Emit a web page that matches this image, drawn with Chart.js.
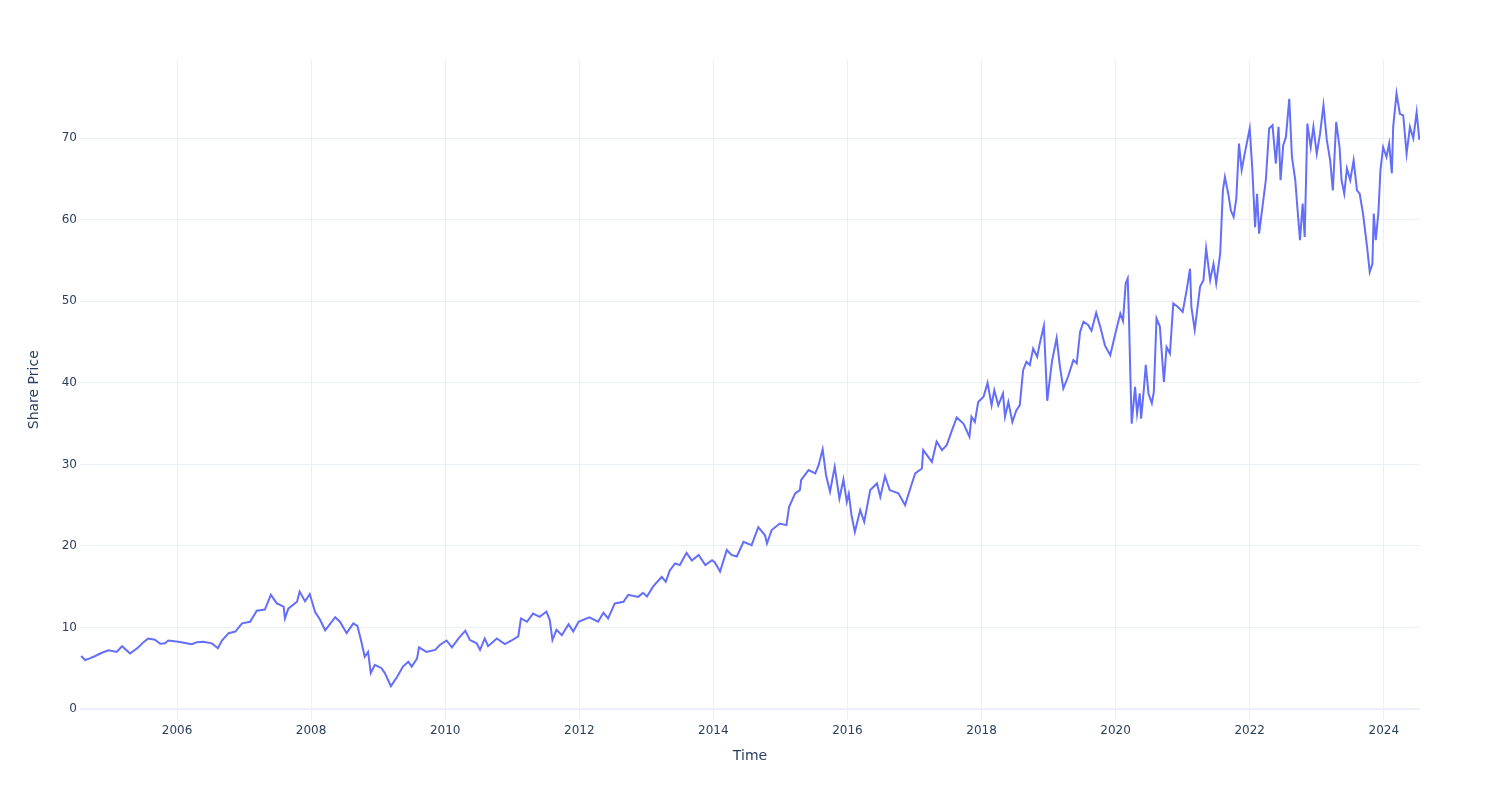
<!DOCTYPE html>
<html>
<head>
<meta charset="utf-8">
<title>Share Price</title>
<script src="https://cdn.jsdelivr.net/npm/chart.js@4/dist/chart.umd.min.js"></script>
<style>
    html, body { margin: 0; padding: 0; background: #fff; }
    #wrap { width: 1500px; height: 800px; position: relative; }
</style>
</head>
<body>
<div id="wrap"><canvas id="priceChart"></canvas></div>
<script>
// dates as decimal years
const years = [
    2004.57, 2004.63, 2004.70, 2004.78, 2004.88, 2004.98, 2005.10, 2005.18, 2005.30, 2005.42,
    2005.50, 2005.57, 2005.67, 2005.75, 2005.82, 2005.87, 2006.02, 2006.12, 2006.22, 2006.30,
    2006.39, 2006.52, 2006.61, 2006.67, 2006.77, 2006.87, 2006.97, 2007.09, 2007.19, 2007.31,
    2007.40, 2007.49, 2007.59, 2007.61, 2007.66, 2007.79, 2007.83, 2007.91, 2007.98, 2008.06,
    2008.13, 2008.21, 2008.36, 2008.43, 2008.53, 2008.63, 2008.69, 2008.75, 2008.80, 2008.85,
    2008.89, 2008.95, 2009.05, 2009.10, 2009.19, 2009.28, 2009.37, 2009.45, 2009.50, 2009.58,
    2009.61, 2009.72, 2009.85, 2009.92, 2010.02, 2010.10, 2010.20, 2010.30, 2010.37, 2010.47,
    2010.52, 2010.59, 2010.64, 2010.77, 2010.89, 2010.99, 2011.09, 2011.13, 2011.22, 2011.31,
    2011.41, 2011.51, 2011.56, 2011.60, 2011.66, 2011.74, 2011.84, 2011.91, 2011.99, 2012.15,
    2012.28, 2012.36, 2012.43, 2012.53, 2012.66, 2012.73, 2012.88, 2012.95, 2013.01, 2013.10,
    2013.23, 2013.29, 2013.35, 2013.43, 2013.50, 2013.60, 2013.68, 2013.78, 2013.88, 2013.98,
    2014.02, 2014.10, 2014.20, 2014.27, 2014.35, 2014.45, 2014.57, 2014.67, 2014.77, 2014.80,
    2014.87, 2014.99, 2015.09, 2015.13, 2015.22, 2015.29, 2015.31, 2015.42, 2015.52, 2015.57,
    2015.63, 2015.68, 2015.74, 2015.81, 2015.88, 2015.94, 2015.99, 2016.02, 2016.06, 2016.11,
    2016.19, 2016.25, 2016.34, 2016.44, 2016.49, 2016.56, 2016.63, 2016.76, 2016.86, 2016.93,
    2017.01, 2017.11, 2017.13, 2017.26, 2017.33, 2017.41, 2017.48, 2017.56, 2017.63, 2017.73,
    2017.82, 2017.85, 2017.90, 2017.95, 2018.03, 2018.09, 2018.15, 2018.19, 2018.25, 2018.32,
    2018.35, 2018.40, 2018.46, 2018.52, 2018.57, 2018.62, 2018.67, 2018.72, 2018.77, 2018.83,
    2018.87, 2018.93, 2018.98, 2019.05, 2019.12, 2019.17, 2019.22, 2019.29, 2019.37, 2019.42,
    2019.47, 2019.52, 2019.59, 2019.64, 2019.71, 2019.77, 2019.84, 2019.92, 2019.99, 2020.07,
    2020.11, 2020.15, 2020.18, 2020.20, 2020.22, 2020.24, 2020.29, 2020.32, 2020.36, 2020.38,
    2020.42, 2020.45, 2020.49, 2020.54, 2020.57, 2020.61, 2020.66, 2020.72, 2020.76, 2020.81,
    2020.86, 2020.93, 2021.00, 2021.06, 2021.11, 2021.13, 2021.18, 2021.26, 2021.31, 2021.35,
    2021.41, 2021.46, 2021.50, 2021.56, 2021.60, 2021.63, 2021.68, 2021.72, 2021.76, 2021.80,
    2021.84, 2021.88, 2021.93, 2022.00, 2022.04, 2022.08, 2022.11, 2022.14, 2022.19, 2022.24,
    2022.29, 2022.34, 2022.39, 2022.43, 2022.46, 2022.50, 2022.54, 2022.59, 2022.63, 2022.68,
    2022.71, 2022.75, 2022.79, 2022.82, 2022.86, 2022.91, 2022.95, 2023.00, 2023.05, 2023.10,
    2023.15, 2023.20, 2023.24, 2023.29, 2023.34, 2023.37, 2023.41, 2023.45, 2023.50, 2023.55,
    2023.60, 2023.64, 2023.69, 2023.75, 2023.79, 2023.83, 2023.85, 2023.88, 2023.92, 2023.95,
    2023.99, 2024.04, 2024.08, 2024.12, 2024.14, 2024.19, 2024.24, 2024.29, 2024.34, 2024.39,
    2024.44, 2024.49, 2024.53
];

const prices = [
    6.5, 6.0, 6.2, 6.5, 6.9, 7.2, 7.0, 7.7, 6.8, 7.55,
    8.2, 8.65, 8.5, 8.0, 8.05, 8.4, 8.25, 8.1, 7.95, 8.2,
    8.25, 8.05, 7.45, 8.4, 9.3, 9.5, 10.5, 10.7, 12.05, 12.2,
    14.0, 12.95, 12.55, 11.1, 12.3, 13.15, 14.4, 13.2, 14.1, 11.9,
    11.0, 9.65, 11.25, 10.7, 9.3, 10.5, 10.2, 8.25, 6.4, 7.0,
    4.4, 5.4, 5.0, 4.4, 2.8, 3.9, 5.2, 5.8, 5.2, 6.2,
    7.55, 7.0, 7.25, 7.85, 8.4, 7.55, 8.65, 9.6, 8.45, 8.05,
    7.25, 8.65, 7.7, 8.65, 7.95, 8.4, 8.9, 11.1, 10.7, 11.7,
    11.3, 11.95, 10.9, 8.45, 9.7, 9.05, 10.4, 9.5, 10.7, 11.25,
    10.7, 11.8, 11.1, 12.95, 13.15, 14.0, 13.75, 14.25, 13.8, 15.0,
    16.2, 15.6, 17.0, 17.85, 17.65, 19.15, 18.2, 18.9, 17.65, 18.25,
    18.0, 16.85, 19.5, 18.9, 18.7, 20.5, 20.1, 22.3, 21.3, 20.3,
    21.95, 22.75, 22.55, 24.8, 26.45, 26.85, 28.1, 29.3, 28.9, 29.9,
    31.85, 28.7, 26.65, 29.7, 25.8, 28.15, 25.4, 26.4, 23.8, 21.7,
    24.4, 22.95, 26.85, 27.65, 26.0, 28.55, 26.85, 26.45, 25.0, 26.85,
    28.9, 29.5, 31.75, 30.3, 32.8, 31.75, 32.35, 34.2, 35.75, 35.0,
    33.4, 35.85, 35.2, 37.65, 38.3, 40.0, 37.25, 39.1, 37.25, 38.7,
    35.85, 37.65, 35.2, 36.65, 37.25, 41.55, 42.6, 42.2, 44.2, 43.2,
    44.9, 47.0, 37.8, 42.6, 45.5, 41.95, 39.3, 40.75, 42.8, 42.4,
    46.25, 47.5, 47.1, 46.4, 48.6, 46.9, 44.6, 43.4, 45.85, 48.5,
    47.6, 52.2, 52.8, 47.7, 40.75, 35.0, 39.5, 36.25, 38.7, 35.6,
    39.1, 42.2, 38.7, 37.5, 38.9, 47.9, 46.9, 40.1, 44.4, 43.6,
    49.75, 49.3, 48.7, 51.4, 54.0, 49.3, 46.5, 51.8, 52.6, 56.5,
    52.6, 54.6, 52.2, 55.9, 63.6, 65.25, 63.2, 61.1, 60.35, 62.6,
    69.35, 66.1, 68.3, 71.2, 66.1, 59.1, 63.2, 58.3, 61.6, 64.85,
    71.2, 71.6, 66.9, 71.4, 64.85, 69.15, 70.15, 74.85, 67.7, 64.85,
    61.6, 57.5, 62.0, 57.9, 71.8, 68.9, 71.4, 68.1, 70.6, 74.05,
    69.8, 67.3, 63.6, 72.0, 68.9, 64.85, 63.2, 66.3, 64.85, 67.3,
    63.6, 63.2, 60.75, 56.7, 53.6, 54.6, 60.75, 57.5, 60.95, 66.1,
    68.9, 67.7, 69.35, 65.7, 71.4, 75.5, 73.0, 72.8, 68.1, 71.4,
    70.0, 73.2, 69.8
];

const xTicks = [2006, 2008, 2010, 2012, 2014, 2016, 2018, 2020, 2022, 2024];
const yTicks = [0, 10, 20, 30, 40, 50, 60, 70];

document.addEventListener('DOMContentLoaded', function() {

    const gridColor = '#EBF0F8';
    const textColor = '#2a3f5f';
    const fontFamily = '"DejaVu Sans", Verdana, sans-serif';

    const points = years.map((yr, i) => ({ x: yr, y: prices[i] }));

    const ctx = document.getElementById('priceChart').getContext('2d');
    const priceChart = new Chart(ctx, {
        type: 'line',
        data: {
            datasets: [{
                label: 'Share Price',
                data: points,
                borderColor: '#636efa',
                borderWidth: 2,
                pointRadius: 0,
                tension: 0,
                fill: false
            }]
        },
        options: {
            responsive: true,
            maintainAspectRatio: false,
            animation: false,
            devicePixelRatio: 1,
            layout: {
                padding: { top: 60, right: 80, left: 0, bottom: 0 }
            },
            plugins: {
                legend: { display: false },
                tooltip: { enabled: false }
            },
            scales: {
                x: {
                    type: 'linear',
                    min: 2004.553,
                    max: 2024.54,
                    afterBuildTicks: scale => { scale.ticks = xTicks.map(v => ({ value: v })); },
                    afterFit: scale => { scale.height = 80.5; },
                    border: { display: false },
                    grid: { color: gridColor, lineWidth: 1, drawTicks: false },
                    ticks: {
                        color: textColor,
                        padding: 4,
                        maxRotation: 0,
                        font: { family: fontFamily, size: 12 },
                        callback: v => String(v)
                    },
                    title: {
                        display: true,
                        text: 'Time',
                        color: textColor,
                        font: { family: fontFamily, size: 14 },
                        padding: { top: 0, bottom: 35.6 }
                    }
                },
                y: {
                    type: 'linear',
                    min: -1.29,
                    max: 79.6,
                    afterBuildTicks: scale => { scale.ticks = yTicks.map(v => ({ value: v })); },
                    afterFit: scale => { scale.width = 80; },
                    border: { display: false },
                    grid: {
                        color: gridColor,
                        lineWidth: c => (c.tick && c.tick.value === 0 ? 2 : 1),
                        drawTicks: false
                    },
                    ticks: {
                        color: textColor,
                        padding: 3,
                        font: { family: fontFamily, size: 12 }
                    },
                    title: {
                        display: true,
                        text: 'Share Price',
                        color: textColor,
                        font: { family: fontFamily, size: 14 },
                        padding: { top: 25.6, bottom: 0 }
                    }
                }
            }
        }
    });

});
</script>
</body>
</html>
